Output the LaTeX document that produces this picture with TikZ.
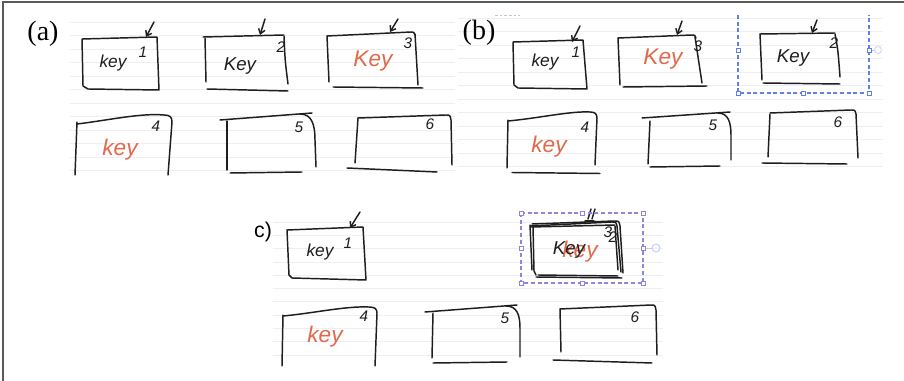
\documentclass[tikz,border=0pt]{standalone}
\usepackage{fontspec}
\setmainfont{Liberation Serif}
\newfontfamily\handfont{Liberation Sans}
\usetikzlibrary{arrows.meta}
\definecolor{ink}{HTML}{1E1E1E}
\definecolor{redink}{HTML}{E2694C}
\definecolor{selblue}{HTML}{5F80E6}
\definecolor{selpurple}{HTML}{8C86E2}
\definecolor{ruleln}{HTML}{EDEFF3}
\definecolor{framecol}{HTML}{5A5A5A}
\begin{document}
\begin{tikzpicture}[x=0.75pt,y=-0.75pt,
  pen/.style={draw=ink,line width=1.1pt,line cap=round,line join=round},
  pointer/.style={pen,-{Straight Barb[length=3.5pt,width=5pt]}},
  ruled/.style={draw=ruleln,line width=0.5pt},
  keyblack/.style={text=ink,font=\handfont\itshape\fontsize{13}{14}\selectfont,inner sep=0pt},
  keyred/.style={text=redink,font=\handfont\itshape\fontsize{17}{18}\selectfont,inner sep=0pt},
  numlab/.style={text=ink,font=\handfont\itshape\fontsize{11.5}{12}\selectfont,inner sep=0pt},
  panellab/.style={text=black,font=\fontsize{21}{23}\selectfont,inner sep=0pt},
  seldash/.style={dashed,dash pattern=on 3pt off 2pt,line width=0.8pt},
  handle/.style={draw,fill=white,line width=0.6pt,minimum size=3pt,inner sep=0pt}]
\useasboundingbox (0,0) rectangle (904,381);
\fill[white] (0,0) rectangle (904,381);
% notebook rules
\foreach \y in {22,35.5,...,177} {\draw[ruled] (70,\y) -- (455,\y);}
\foreach \y in {18,31.5,...,177} {\draw[ruled] (458,\y) -- (883,\y);}
\foreach \y in {222,235.3,...,366} {\draw[ruled] (273,\y) -- (663,\y);}
% frame
\draw[framecol,line width=1.5pt] (3,381) -- (3,2) -- (904,2);
% panel labels
\node[panellab] (la) at (43,34) {(a)};
\node[panellab] (lb) at (479,33) {(b)};
\node[text=black,font=\handfont\fontsize{16}{18}\selectfont,inner sep=0pt] (lc) at (263,232) {c)};
\draw[draw=red!25!gray!40,dashed,dash pattern=on 2pt off 1.5pt,line width=0.6pt] (495,15) -- (520,15);

% ===== (a) row 1 =====
\draw[pen] (82,39) -- (157,37) -- (159,90) -- (88,89) -- (83,86) -- cycle;
\draw[pointer] (154,22) -- (146,37);
\node[keyblack] (ka1) at (113,63) {key};
\node[numlab] (na1) at (143,52) {1};

\draw[pen] (203,37) -- (284,35);
\draw[pen] (205,38) -- (206,82);
\draw[pen] (284,36) .. controls (285,60) .. (288,84);
\draw[pen] (207,89) -- (288,91);
\draw[pointer] (265,19) -- (260,35);
\node[keyblack,font=\handfont\itshape\fontsize{14}{15}\selectfont] (ka2) at (240,66) {Key};
\node[numlab] (na2) at (281,47) {2};

\draw[pen] (327,36) -- (411,32) .. controls (414,32) .. (415,35);
\draw[pen] (415,34) -- (418,85);
\draw[pen] (327,36) -- (329,82);
\draw[pen] (333,87) -- (423,88);
\draw[pointer] (398,19) -- (390,32);
\node[keyred] (ka3) at (373,61) {Key};
\node[numlab] (na3) at (408,43) {3};

% ===== (a) row 2 =====
\draw[pen] (77,124) .. controls (110,120) and (140,113) .. (164,115) .. controls (170,115) and (172,117) .. (172,122) -- (168,175);
\draw[pen] (77,122) -- (75,175);
\node[keyred] (ka4) at (120,150) {key};
\node[numlab] (na4) at (156,126) {4};

\draw[pen] (220,120) -- (312,113);
\draw[pen] (227,121) -- (227,170);
\draw[pen] (300,114) .. controls (312,114) and (315,125) .. (315,140) -- (316,167);
\draw[pen] (230,173) -- (302,172);
\node[numlab] (na5) at (299,127) {5};

\draw[pen] (358,118) -- (446,115) .. controls (450,115) .. (451,120) -- (452,165);
\draw[pen] (358,118) -- (355,163);
\draw[pen] (347,168) -- (437,172);
\node[numlab] (na6) at (430,124) {6};

% ===== (b) row 1 =====
\draw[pen] (513,42) -- (583,40) -- (587,89) -- (518,88) -- (514,85) -- cycle;
\draw[pointer] (580,26) -- (572,42);
\node[keyblack] (kb1) at (545,62) {key};
\node[numlab] (nb1) at (576,52) {1};

\draw[pen] (618,38) -- (692,35) .. controls (695,35) .. (696,38);
\draw[pen] (618,38) -- (620,85);
\draw[pen] (695,37) -- (702,83);
\draw[pen] (623,87) -- (707,86);
\draw[pointer] (682,21) -- (677,35);
\node[keyred] (kb2) at (663,59) {Key};
\node[numlab] (nb2) at (698,46) {3};

\draw[pen] (760,34) -- (835,33);
\draw[pen] (760,34) -- (762,80);
\draw[pen] (835,34) .. controls (838,50) .. (840,77);
\draw[pen] (763,83) -- (840,84);
\draw[pointer] (817,20) -- (812,33);
\node[keyblack,font=\handfont\itshape\fontsize{14}{15}\selectfont] (kb3) at (793,58) {Key};
\node[numlab] (nb3) at (834,43) {2};
% selection (b)
\draw[selblue,seldash] (738,15) -- (738,93) -- (869,93) -- (869,15);
\draw[selblue!50,line width=0.6pt] (869,50) -- (874,50);
\draw[selblue!35,line width=0.6pt] (878,50) circle[radius=3.5];
\foreach \p in {(738,50),(869,50),(738,93),(803,93),(869,93)} {\node[handle,draw=selblue] at \p {};}

% ===== (b) row 2 =====
\draw[pen] (508,121) .. controls (540,118) and (570,111) .. (590,112) .. controls (595,112) and (597,114) .. (597,118) -- (595,165);
\draw[pen] (508,120) -- (507,168);
\draw[pen] (512,172.5) -- (600,173.5);
\node[keyred] (kb4) at (549,147) {key};
\node[numlab] (nb4) at (585,127) {4};

\draw[pen] (642,118) -- (730,112);
\draw[pen] (650,121) -- (648,164);
\draw[pen] (718,113) .. controls (728,113) and (731,122) .. (731,135) -- (731,160);
\draw[pen] (650,167) -- (720,166);
\node[numlab] (nb5) at (713,125) {5};

\draw[pen] (770,113) -- (851,110) .. controls (855,110) .. (856,114) -- (858,158);
\draw[pen] (770,114) -- (768,157);
\draw[pen] (762,163) -- (847,164);
\node[numlab] (nb6) at (838,122) {6};

% ===== (c) row 1 =====
\draw[pen] (287,230) -- (363,227) -- (366,280) -- (292,278) -- (289,275) -- cycle;
\draw[pointer] (360,212) -- (350,228);
\node[keyblack] (kc1) at (320,252) {key};
\node[numlab] (nc1) at (348,243) {1};

% scribbled selected box
\draw[pen] (530,226) -- (612,222) .. controls (616,222) .. (617,226) -- (621,272);
\draw[pen] (532,224) -- (614,221) .. controls (619,221) .. (620,226) -- (623,273);
\draw[pen] (531,227) -- (615,225);
\draw[pen] (530,225) -- (532,270);
\draw[pen] (533,226) -- (534,271) -- (536,275);
\draw[pen] (615,226) -- (618,270);
\draw[pen] (536,277) -- (622,278);
\draw[pen] (538,275) -- (618,276);
\draw[pen] (588,219) -- (591,209);
\draw[pen] (592,219) -- (595,209);
\draw[pen] (585,221) -- (594,221);
\node[keyred] (kc2r) at (580,252) {key};
\node[keyblack,font=\handfont\itshape\fontsize{14}{15}\selectfont] (kc2b) at (569,250) {Key};
\node[numlab] (nc2a) at (608,232) {3};
\node[numlab] (nc2b) at (613,237) {2};
% selection (c)
\draw[selpurple,seldash] (521,213) rectangle (643,283);
\draw[selpurple!50,line width=0.6pt] (643,248) -- (652,248);
\draw[selblue!35,line width=0.8pt] (656,248) circle[radius=4];
\foreach \p in {(521,213),(582,213),(643,213),(521,248),(643,248),(521,283),(582,283),(643,283)} {\node[handle,draw=selpurple] at \p {};}

% ===== (c) row 2 =====
\draw[pen] (283,316) .. controls (315,313) and (345,306) .. (369,307) .. controls (375,307) and (377,309) .. (377,313) -- (375,366);
\draw[pen] (283,315) -- (282,366);
\node[keyred] (kc4) at (325,337) {key};
\node[numlab] (nc4) at (364,316) {4};

\draw[pen] (425,312) -- (517,305);
\draw[pen] (433,313) -- (432,358);
\draw[pen] (506,306) .. controls (517,306) and (520,315) .. (520,328) -- (520,357);
\draw[pen] (433,363) -- (507,362);
\node[numlab] (nc5) at (505,318) {5};

\draw[pen] (560,309) -- (651,305) .. controls (655,305) .. (656,310) -- (657,355);
\draw[pen] (560,309) -- (561,352);
\draw[pen] (553,360) -- (652,363);
\node[numlab] (nc6) at (635,317) {6};
\end{tikzpicture}
\end{document}
